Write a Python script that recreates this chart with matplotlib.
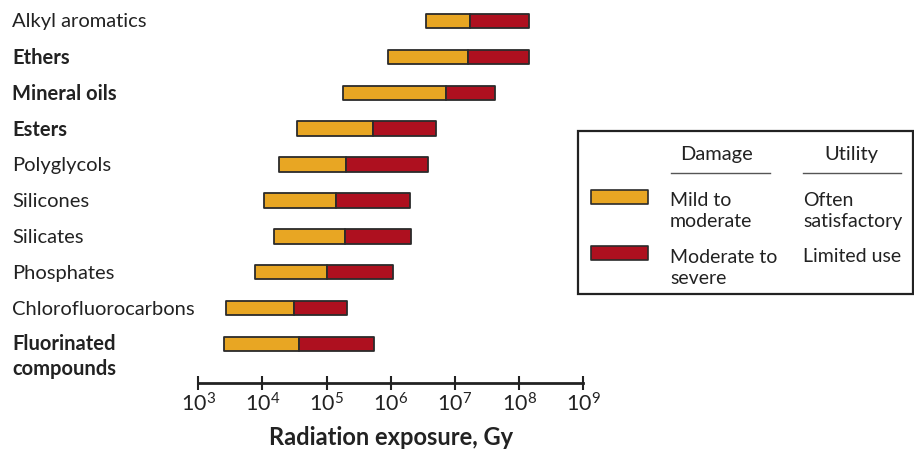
import matplotlib
matplotlib.use("Agg")
import matplotlib.pyplot as plt
from matplotlib.transforms import blended_transform_factory
from matplotlib.patches import Rectangle

# Radiation tolerance of lubricant classes (Gy, log scale)
categories = ["Alkyl aromatics", "Ethers", "Mineral oils", "Esters", "Polyglycols",
              "Silicones", "Silicates", "Phosphates", "Chlorofluorocarbons",
              "Fluorinated\ncompounds"]
mild_start = [3.6e6, 9.0e5, 1.8e5, 3.4e4, 1.8e4, 1.05e4, 1.5e4, 7.7e3, 2.7e3, 2.5e3]
severe_start = [1.7e7, 1.6e7, 7.2e6, 5.2e5, 2.0e5, 1.4e5, 1.9e5, 1.0e5, 3.1e4, 3.7e4]
severe_end = [1.4e8, 1.4e8, 4.2e7, 5.1e6, 3.8e6, 2.0e6, 2.1e6, 1.1e6, 2.1e5, 5.5e5]
bold_rows = {"Ethers", "Mineral oils", "Esters", "Fluorinated\ncompounds"}

xticks = [1e3, 1e4, 1e5, 1e6, 1e7, 1e8, 1e9]
xticklabels = ["$10^{%d}$" % p for p in range(3, 10)]

ORANGE = "#E8A623"
RED = "#AE101F"
EDGE = "#2b2b2b"
TEXT = "#222222"

plt.rcParams["font.family"] = "Lato"
plt.rcParams["mathtext.fontset"] = "custom"
plt.rcParams["mathtext.rm"] = "Lato"
plt.rcParams["mathtext.it"] = "Lato:italic"
plt.rcParams["mathtext.bf"] = "Lato:bold"

W, H = 914, 452
fig = plt.figure(figsize=(W / 100, H / 100), dpi=100)
ax = fig.add_axes([198.3 / W, 1 - 384.3 / H, 385.0 / W, 384.3 / H])

ys = list(range(len(categories)))
widths_mild = [m - s for s, m in zip(mild_start, severe_start)]
widths_sev = [e - m for m, e in zip(severe_start, severe_end)]
for lefts, widths, col in ((mild_start, widths_mild, ORANGE), (severe_start, widths_sev, RED)):
    bars = ax.barh(ys, widths, left=lefts, height=0.40, color=col,
                   edgecolor=EDGE, linewidth=1.3, zorder=2)
    for b in bars:
        b.set_joinstyle("round")

ax.set_xscale("log")
ax.set_xlim(1e3, 1e9)
ax.set_ylim(10.095, -0.613)
ax.set_xticks(xticks)
ax.set_xticklabels(xticklabels, fontsize=15.5, color=TEXT)
ax.minorticks_off()
ax.tick_params(axis="x", direction="inout", length=10, width=1.5, color=TEXT, pad=1)
ax.set_yticks([])
for side in ["left", "right", "top"]:
    ax.spines[side].set_visible(False)
ax.spines["bottom"].set_linewidth(2)
ax.spines["bottom"].set_color(TEXT)
ax.patch.set_alpha(0)
ax.set_xlabel("Radiation exposure, Gy", fontsize=17, fontweight="bold",
              color=TEXT, labelpad=7)

# category names on the left
trans = blended_transform_factory(fig.transFigure, ax.transData)
for y, name in zip(ys, categories):
    weight = "bold" if name in bold_rows else "normal"
    yy = y + 0.33 if "\n" in name else y
    ax.text(12 / W, yy, name, transform=trans, ha="left", va="center",
            fontsize=14.5, fontweight=weight, color=TEXT, linespacing=1.3)

# legend panel, drawn in pixel coordinates
lg = fig.add_axes([0, 0, 1, 1])
lg.set_xlim(0, W)
lg.set_ylim(H, 0)
lg.axis("off")
lg.patch.set_alpha(0)
lg.add_patch(Rectangle((577.5, 132), 335, 163, fill=False, edgecolor=TEXT, linewidth=1.6))
lg.text(716.7, 155, "Damage", ha="center", va="center", fontsize=14.5, color=TEXT)
lg.text(851.7, 155, "Utility", ha="center", va="center", fontsize=14.5, color=TEXT)
lg.plot([671, 770], [174.3, 174.3], color="#555555", linewidth=1.0)
lg.plot([803, 901], [174.3, 174.3], color="#555555", linewidth=1.0)
lg.add_patch(Rectangle((591, 191), 57, 14, facecolor=ORANGE, edgecolor=EDGE,
                       linewidth=1.2, joinstyle="round"))
lg.add_patch(Rectangle((591, 247), 57, 14, facecolor=RED, edgecolor=EDGE,
                       linewidth=1.2, joinstyle="round"))
lg.text(670, 211, "Mild to\nmoderate", ha="left", va="center", fontsize=14,
        color=TEXT, linespacing=1.25)
lg.text(803, 211, "Often\nsatisfactory", ha="left", va="center", fontsize=14,
        color=TEXT, linespacing=1.25)
lg.text(670, 268, "Moderate to\nsevere", ha="left", va="center", fontsize=14,
        color=TEXT, linespacing=1.25)
lg.text(803, 257, "Limited use", ha="left", va="center", fontsize=14, color=TEXT)

fig.savefig("out.png", dpi=100)
